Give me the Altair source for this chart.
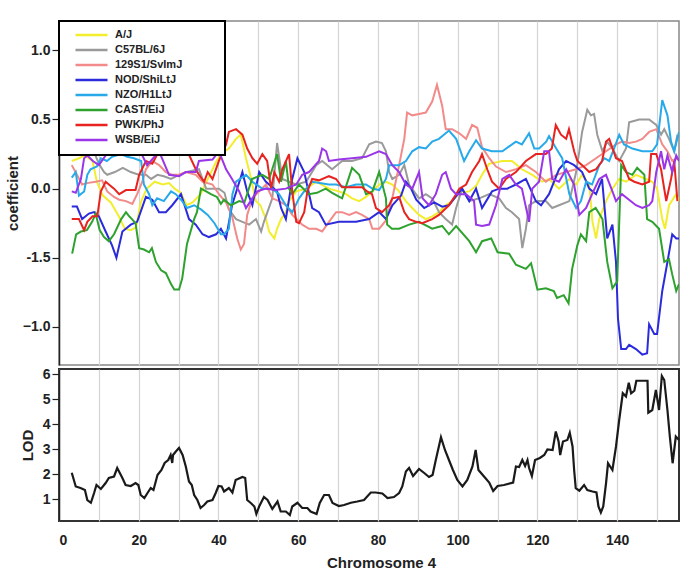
import altair as alt
import pandas as pd

STRAINS = ["A/J", "C57BL/6J", "129S1/SvImJ", "NOD/ShiLtJ", "NZO/H1LtJ", "CAST/EiJ", "PWK/PhJ", "WSB/EiJ"]
COLORS = ["#f2ee2e", "#9a9a9a", "#f28a8a", "#2b2bdc", "#27a9ea", "#2ea22e", "#e8231f", "#9a35e8"]

AJ = [(3.2,0.2),(5,0.22),(6.5,0.24),(8.4,0.2),(9.5,0.05),(11,-0.05),(13,-0.1),(15,-0.2),(16.5,-0.29),(18,-0.3),(19.3,-0.28),(20.5,-0.1),(22,0.0),(24,0.05),(26,0.03),(27.6,0.04),(29,0.0),(30.5,-0.03),(32,-0.12),(33.5,-0.1),(35.5,-0.04),(37.5,0.08),(39.5,0.2),(41,0.26),(42.6,0.29),(44.4,0.36),(45.6,0.39),(46.9,0.22),(48.2,0.07),(49.4,-0.09),(50.5,-0.12),(51.9,-0.22),(52.7,-0.31),(54,-0.36),(54.7,-0.29),(55.7,-0.22),(56.9,-0.17),(57.7,-0.09),(59.5,-0.02),(62,0.0),(64.5,0.05),(67.7,0.0),(70.2,-0.02),(72,-0.04),(73.5,-0.07),(75.3,-0.09),(77,-0.06),(78.6,-0.02),(80.3,0.03),(82,0.05),(83.6,0.03),(85.3,-0.02),(87,-0.09),(88.6,-0.14),(90.3,-0.19),(92,-0.22),(93.6,-0.2),(95.3,-0.17),(97,-0.12),(98.6,-0.09),(100.4,-0.03),(102.9,-0.02),(104.6,0.02),(106.1,0.1),(107.9,0.18),(109.6,0.19),(111.2,0.2),(113.6,0.2),(116.1,0.14),(118.7,0.1),(121.2,0.05),(122.9,0.07),(125.4,0.0),(128,0.07),(129.7,0.03),(131.2,0.1),(133,0.03),(133.8,-0.24),(134.7,-0.36),(135.5,-0.22),(137.2,-0.09),(138.8,0.0),(140.5,0.07),(142.2,0.05),(144.7,0.1),(147.2,0.07),(148.8,0.05),(150,0.0),(151.3,-0.22),(152,-0.29),(153,-0.12),(154.8,-0.04),(155.5,-0.09)]

C57 = [(3.2,0.3),(5,0.32),(7,0.3),(9,0.25),(10,0.18),(11.3,0.12),(12.1,0.1),(14,0.12),(16,0.15),(18,0.12),(20,0.1),(21.8,0.1),(23.1,0.07),(24.7,0.1),(26.3,0.09),(28.1,0.07),(30.1,0.1),(32,0.12),(35.1,0.14),(36.9,0.0),(40.1,0.0),(41.5,-0.03),(42.6,-0.15),(44.4,-0.22),(46,-0.24),(47.7,-0.26),(49.4,-0.22),(50.7,-0.31),(51.4,-0.24),(53.5,-0.07),(54.7,0.33),(56,0.07),(57.7,0.05),(59.5,0.03),(62,0.05),(64.5,0.17),(66,0.2),(68.5,0.14),(71,0.2),(73.5,0.2),(76,0.22),(77.8,0.32),(79.5,0.34),(81,0.33),(82,0.27),(82.8,0.12),(83.6,0.07),(85.3,0.1),(86.6,0.17),(87.8,0.03),(90.3,-0.07),(92,-0.04),(93.6,-0.07),(95.3,-0.17),(97,-0.22),(98.6,-0.26),(99.6,-0.14),(101.1,0.0),(102.9,-0.09),(105.4,-0.07),(107.9,-0.04),(110.4,-0.07),(112.1,-0.14),(113.6,-0.17),(115.4,-0.22),(116.2,-0.43),(117.1,-0.29),(117.9,-0.12),(119.6,-0.09),(122.1,-0.09),(123.7,-0.14),(125.4,-0.12),(128,-0.09),(129.7,0.12),(130.5,0.27),(131.2,0.41),(132.5,0.57),(133.4,0.53),(134.2,0.54),(135,0.39),(136.3,0.27),(137.5,0.34),(138.8,0.29),(140.5,0.2),(142.2,0.29),(143,0.48),(145.5,0.5),(148,0.5),(149.8,0.46),(151,0.39),(151.8,0.43),(153,0.36),(154.3,0.27),(155.1,0.39)]

S129 = [(3.2,0.17),(4.5,0.1),(5.8,0.03),(7,0.04),(9.2,0.05),(10.8,0.06),(12.1,-0.02),(13.8,-0.06),(15.1,-0.08),(16.8,-0.09),(18.4,-0.11),(19.6,-0.04),(20.9,0.05),(21.8,0.14),(23.4,0.2),(25.1,0.17),(26.8,0.12),(28.4,0.1),(30.1,0.1),(31.8,0.12),(34.3,0.1),(36,0.05),(38.5,0.03),(40.1,-0.04),(41.9,-0.1),(43.4,-0.2),(44.7,-0.36),(45.6,-0.44),(46.4,-0.4),(47.2,-0.19),(48.5,-0.07),(50.2,-0.02),(51.9,0.03),(53.5,-0.07),(55.2,-0.09),(56.9,-0.12),(58.5,-0.19),(61,-0.26),(62.7,-0.29),(64.5,-0.29),(66,-0.31),(67.7,-0.24),(69.5,-0.17),(71,-0.17),(72.8,-0.19),(74.5,-0.17),(76,-0.19),(77.8,-0.22),(78.6,-0.29),(80.3,-0.29),(82,-0.23),(83.6,-0.07),(85.3,0.17),(86.6,0.36),(87.3,0.55),(88.6,0.53),(90.3,0.54),(92,0.55),(93.6,0.63),(94.8,0.75),(96.1,0.6),(97,0.43),(98.6,0.43),(100.4,0.4),(102.1,0.36),(103.6,0.46),(104.9,0.44),(106.1,0.3),(107.9,0.22),(109.6,0.16),(112.1,0.12),(114.6,0.14),(117.1,0.17),(119.6,0.12),(122.1,0.05),(124.7,0.1),(127.2,0.12),(129.7,0.14),(132.2,0.17),(134.7,0.22),(137.2,0.27),(139.7,0.32),(141.2,0.34),(143,0.33),(144.7,0.34),(146.3,0.36),(148,0.41),(149.8,0.43),(151.3,0.32),(152.6,0.27),(153.8,0.2),(155.1,0.22)]

NOD = [(3.2,-0.13),(4.5,-0.13),(5.8,-0.22),(7.5,-0.18),(8.8,-0.17),(10,-0.2),(11.7,-0.31),(13.3,-0.41),(14.4,-0.5),(15.9,-0.31),(18,-0.26),(19.6,-0.24),(21.8,-0.06),(23.4,-0.08),(25.1,-0.17),(26.8,-0.17),(28.4,-0.12),(30.6,-0.04),(32.6,-0.22),(34.3,-0.26),(36,-0.33),(37.6,-0.35),(39.4,-0.33),(40.6,-0.29),(41.9,-0.36),(43.4,-0.12),(46,0.12),(47.2,-0.02),(48.5,-0.12),(50.2,0.12),(51.9,0.05),(54.7,-0.02),(55.7,-0.14),(56.9,-0.22),(58.5,0.07),(59.8,0.22),(61.5,0.12),(63.5,-0.14),(65.2,-0.17),(66.9,-0.26),(70.2,-0.24),(74.5,-0.24),(77.8,-0.22),(80.3,-0.17),(82,-0.22),(83.6,-0.12),(85.8,-0.05),(87,0.05),(88.3,0.0),(89.6,-0.08),(91.6,-0.14),(94.1,-0.1),(96.1,-0.13),(97.8,-0.12),(101.1,0.0),(102.9,-0.09),(104.6,0.0),(106.1,-0.14),(108.6,-0.02),(110.4,0.0),(112.4,0.0),(114.6,0.03),(117.1,0.07),(119.6,-0.09),(120.9,-0.12),(122.9,-0.04),(125.4,0.14),(127.2,0.2),(129.2,0.17),(131.2,0.12),(133,0.0),(134.7,-0.04),(136.2,0.07),(137.5,-0.36),(138.8,-0.26),(139.7,-0.53),(140.2,-0.94),(141,-1.16),(142.2,-1.16),(143,-1.13),(144.7,-1.16),(146.3,-1.2),(147.5,-1.19),(148,-0.98),(149.3,-1.05),(150,-1.05),(151.3,-0.74),(152.6,-0.53),(153.8,-0.33),(154.8,-0.36),(155.5,-0.36)]

NZO = [(3.2,0.08),(4.2,0.12),(5,-0.05),(6.3,-0.02),(7.1,0.1),(7.9,0.14),(9.5,0.16),(10.5,0.22),(12,0.2),(13.3,0.23),(15.6,0.25),(17.1,0.23),(18.8,0.22),(20.6,0.2),(21.3,0.03),(22.6,-0.04),(23.4,-0.12),(24.6,-0.07),(26.3,-0.09),(28.1,-0.02),(29.3,-0.04),(30.9,-0.09),(32.1,-0.14),(33.9,-0.12),(35.6,-0.15),(37.3,-0.19),(39,-0.25),(40.6,-0.33),(41.4,-0.33),(42.6,-0.29),(43.5,-0.04),(44.4,0.05),(46.9,0.1),(48.5,0.05),(51,0.0),(53.5,0.0),(55.2,-0.04),(56.9,-0.12),(58.5,-0.17),(60.2,-0.07),(62,0.0),(63.5,0.05),(67.7,0.03),(69.5,0.03),(72,0.01),(74.5,0.03),(77,0.03),(78.6,0.0),(80.3,-0.01),(82,0.07),(82.8,0.17),(85.3,0.17),(87,0.2),(88.6,0.27),(90.3,0.3),(92,0.29),(93.6,0.34),(95.3,0.36),(97.8,0.42),(99.6,0.36),(101.6,0.2),(102.9,0.27),(104.6,0.35),(106.1,0.29),(108.6,0.27),(111.2,0.27),(114.6,0.34),(116.1,0.32),(117.9,0.4),(119.2,0.29),(120.4,0.29),(122.2,0.34),(122.9,0.38),(124.7,0.29),(126.2,0.22),(128,-0.04),(129.7,-0.14),(130.9,-0.09),(132.2,0.05),(133.7,0.03),(135.5,0.17),(136.8,0.22),(138,0.2),(139.2,0.29),(140.5,0.39),(141.7,0.32),(143.8,0.29),(146.3,0.27),(148.8,0.27),(150,0.32),(151.3,0.64),(152.6,0.53),(153.5,0.34),(154.3,0.27),(155.5,0.41)]

CAST = [(3.3,-0.47),(4.3,-0.33),(5.5,-0.31),(7,-0.3),(8.3,-0.24),(9.2,-0.18),(10.2,-0.3),(11.3,-0.35),(12.5,-0.38),(13.8,-0.33),(15.6,-0.22),(16.8,-0.17),(17.6,-0.2),(18.3,-0.22),(19.2,-0.25),(20.1,-0.43),(21.3,-0.44),(22.6,-0.46),(23.3,-0.43),(24.3,-0.53),(25.6,-0.59),(26.8,-0.61),(28.1,-0.69),(28.9,-0.73),(30.1,-0.73),(30.9,-0.65),(32.1,-0.4),(33.9,-0.22),(34.6,-0.17),(35.6,0.0),(36.9,-0.02),(38.1,-0.04),(39.6,-0.06),(40.6,-0.11),(41.4,-0.08),(43.1,-0.12),(45.2,-0.09),(46.5,-0.1),(48.4,0.07),(51,0.1),(52.7,0.07),(54.7,0.25),(55.7,0.05),(56.9,0.2),(57.7,0.0),(58.5,-0.04),(60.2,0.03),(62.7,-0.04),(64.7,-0.03),(66.9,0.0),(68.5,-0.03),(71,-0.07),(73.5,0.15),(75.3,0.1),(77,-0.04),(78.6,-0.02),(80.3,0.12),(82,-0.07),(82.3,-0.26),(83.5,-0.29),(85.3,-0.29),(87.8,-0.26),(90.3,-0.24),(93.6,-0.29),(96.1,-0.27),(97.8,-0.33),(99.6,-0.27),(102.9,-0.38),(104.6,-0.46),(106.1,-0.38),(108.4,-0.36),(110,-0.46),(112.9,-0.47),(114.6,-0.55),(117.1,-0.58),(118.4,-0.54),(120,-0.73),(122.1,-0.72),(124.1,-0.74),(124.9,-0.79),(126.6,-0.77),(127.8,-0.83),(128.7,-0.58),(130,-0.41),(130.9,-0.33),(132.2,-0.38),(133,-0.17),(134.6,-0.14),(136.3,-0.22),(137.5,-0.53),(138.8,-0.72),(140,-0.67),(141,0.17),(142.2,0.12),(143.8,0.1),(145,0.15),(146.8,0.1),(147.5,-0.22),(148.8,-0.24),(150.5,-0.29),(151.8,-0.53),(153,-0.51),(153.8,-0.62),(154.8,-0.74),(155.5,-0.69)]

PWK = [(3.2,-0.22),(5,-0.22),(6.3,-0.3),(7.1,-0.24),(8.4,-0.2),(9.6,-0.2),(10.5,-0.02),(11.7,0.05),(13.8,0.0),(15.1,-0.04),(16.8,-0.01),(19.2,-0.01),(20.1,0.1),(21.8,0.2),(23.4,0.18),(24.7,0.25),(25.9,0.27),(27.6,0.27),(28.8,0.29),(30.5,0.25),(32.2,0.27),(34.3,0.14),(35.1,0.1),(36.4,0.05),(37.3,0.12),(38.5,0.07),(40.1,0.2),(41.9,0.32),(42.6,0.41),(44.4,0.43),(46,0.39),(47.2,0.29),(48.5,0.22),(49.7,0.18),(51,0.25),(52.2,0.2),(53.2,0.0),(54,0.12),(55.2,0.05),(56,0.14),(57.7,0.25),(58.5,-0.02),(59.5,-0.24),(60.2,-0.25),(61.5,-0.17),(62.3,-0.02),(63.5,0.07),(65.2,0.06),(67.7,0.09),(69.5,0.07),(71,0.01),(73.5,0.01),(76,0.01),(77.3,-0.02),(78.5,-0.04),(79.5,-0.14),(81,-0.17),(82.8,-0.12),(83.6,-0.07),(85.3,-0.06),(86.6,-0.17),(87.8,-0.22),(89.6,-0.24),(91.1,-0.25),(93.6,-0.22),(95.3,-0.19),(97.8,-0.12),(99.6,-0.04),(100.4,0.0),(102.1,0.03),(103.6,0.12),(105.4,0.2),(106.1,0.25),(107.4,0.14),(108.6,0.05),(110.4,0.0),(112.1,0.07),(114.6,0.12),(117.1,0.2),(119.6,0.25),(122.1,0.25),(123.6,0.29),(124.6,0.46),(125.9,0.39),(127.2,0.36),(127.9,0.43),(129.2,0.27),(130,0.2),(131.2,0.17),(133,0.12),(134.7,0.14),(136.2,0.2),(137.2,0.34),(138,0.36),(139.7,0.22),(141.2,0.2),(143,0.07),(144.3,0.05),(146.3,0.03),(148,0.05),(148.5,0.25),(149.8,0.25),(151,0.14),(152.3,-0.09),(153.5,0.07),(154.3,0.2),(155.1,-0.09)]

WSB = [(3.2,-0.02),(4.2,-0.03),(5.5,0.07),(6.3,0.22),(7.1,0.24),(8.5,0.2),(10,0.17),(11.7,0.24),(13.8,0.27),(16,0.32),(18,0.35),(20.9,0.24),(22.1,0.17),(25.1,0.27),(27.6,0.1),(30.1,0.09),(31.8,0.12),(34.3,0.12),(35.1,0.2),(38.5,0.21),(40.1,0.27),(41.9,0.14),(43.4,0.07),(45.2,-0.02),(46.9,-0.14),(48.5,-0.07),(49.7,-0.02),(51.9,0.0),(54.3,-0.01),(56.9,0.0),(59.5,0.03),(61,0.1),(62.7,0.12),(65.2,0.2),(66,0.29),(67,0.27),(67.7,0.2),(70.2,0.21),(73.5,0.22),(77,0.23),(78.6,0.25),(80.3,0.27),(82,0.25),(83.6,0.17),(85.3,0.12),(87,0.03),(88.6,0.0),(90.3,0.12),(91.2,-0.07),(92.8,-0.12),(94.5,-0.04),(96.1,0.1),(97,0.12),(98.3,0.0),(99.6,-0.04),(102.1,-0.04),(104.1,-0.09),(104.6,-0.26),(106.1,-0.27),(107.9,-0.26),(109.6,-0.12),(111.2,0.07),(112.9,0.1),(114.6,0.03),(116.1,0.0),(117.9,-0.24),(118.7,0.0),(120.4,0.05),(121.7,0.27),(122.9,0.27),(123.7,0.07),(125.4,0.05),(127.2,0.14),(129.2,0.03),(130.5,-0.19),(132.2,-0.14),(133.7,-0.04),(135.5,0.07),(137.2,0.1),(138.8,-0.02),(139.7,-0.09),(141.2,-0.04),(144.7,-0.12),(146.3,-0.14),(148,-0.12),(148.8,-0.09),(149.8,0.12),(151,0.27),(151.8,0.14),(152.6,0.24),(153.8,0.12),(154.8,0.24),(155.5,0.2)]

LOD = [(3.2,2.05),(4.2,1.5),(5.4,1.44),(6.5,1.36),(7.1,0.96),(8.0,0.85),(8.8,1.24),(9.4,1.56),(10.5,1.4),(11.7,1.64),(12.5,1.84),(13.8,1.9),(14.6,2.24),(15.9,1.84),(16.7,1.56),(18.0,1.52),(19.2,1.64),(19.9,1.56),(20.5,1.16),(21.4,1.04),(22.2,1.24),(23.0,1.44),(23.7,1.36),(24.7,1.96),(25.7,2.16),(26.5,2.44),(27.4,2.56),(28.0,2.76),(28.4,2.44),(28.6,2.76),(29.3,2.9),(30.1,3.04),(31.0,2.76),(31.8,2.3),(32.6,1.7),(33.3,1.56),(33.9,1.16),(34.7,0.96),(35.5,0.64),(36.4,0.76),(37.2,0.9),(38.5,0.96),(39.3,1.24),(40.0,1.52),(40.8,1.5),(41.4,1.3),(42.6,1.44),(43.5,1.26),(44.3,1.76),(46.0,1.88),(46.7,1.84),(47.2,0.96),(48.1,0.84),(49.0,0.7),(49.5,0.4),(50.2,0.7),(51.4,1.08),(52.3,0.96),(53.5,0.6),(54.8,0.9),(55.6,0.5),(56.9,0.5),(57.9,0.36),(58.5,0.7),(59.8,0.85),(61.0,0.64),(62.3,0.64),(63.1,0.5),(64.6,0.4),(65.4,0.84),(66.5,1.16),(67.7,1.16),(68.6,0.84),(70.2,0.72),(71.5,0.76),(73.2,0.85),(74.8,0.9),(76.5,0.96),(78.2,1.26),(79.4,1.26),(81.1,1.22),(82.4,1.04),(84.0,1.08),(85.3,1.24),(86.1,1.5),(87.0,2.1),(87.8,2.24),(88.8,1.92),(90.3,2.2),(91.6,2.04),(92.8,1.88),(93.7,1.96),(94.5,2.56),(95.8,3.47),(96.8,2.96),(97.8,2.56),(98.8,2.16),(99.9,1.76),(101.2,1.5),(102.4,1.76),(103.7,2.3),(104.5,2.96),(105.2,2.16),(106.6,1.9),(107.9,1.66),(108.9,1.32),(110.0,1.52),(111.6,1.56),(113.9,1.66),(114.6,2.3),(115.4,2.28),(116.2,2.56),(116.9,2.32),(117.5,2.56),(117.9,2.24),(118.6,1.92),(119.4,2.56),(120.6,2.64),(121.7,2.76),(122.5,2.98),(123.8,2.96),(124.6,3.7),(125.3,3.3),(125.7,2.76),(126.4,3.3),(127.5,3.36),(128.1,3.65),(128.8,3.1),(129.2,2.16),(129.6,1.43),(130.5,1.33),(131.7,1.56),(132.5,1.36),(133.8,1.3),(134.8,1.26),(135.3,0.7),(135.9,0.46),(136.5,0.7),(137.2,1.63),(137.7,2.43),(138.8,2.16),(139.7,3.1),(140.5,4.16),(141.4,5.23),(142.2,5.1),(142.9,5.65),(143.5,5.23),(144.3,5.33),(144.8,5.73),(147.6,5.73),(147.8,4.45),(148.8,4.56),(149.7,5.36),(150.5,4.56),(151.2,5.92),(151.8,5.76),(152.6,4.56),(153.2,3.5),(153.9,2.43),(154.7,3.5),(155.5,3.36)]

SERIES = {"A/J": AJ, "C57BL/6J": C57, "129S1/SvImJ": S129, "NOD/ShiLtJ": NOD,
          "NZO/H1LtJ": NZO, "CAST/EiJ": CAST, "PWK/PhJ": PWK, "WSB/EiJ": WSB}

rows = []
for name in STRAINS:
    for p, v in SERIES[name]:
        rows.append({"strain": name, "pos": p, "coef": v})
coef_df = pd.DataFrame(rows)
lod_df = pd.DataFrame(LOD, columns=["pos", "lod"])

FONT = "Liberation Sans"
X_DOMAIN = [0, 155.5]
GRID_VALUES = list(range(0, 160, 10))

top = alt.Chart(coef_df).mark_line(strokeWidth=2, clip=True).encode(
    x=alt.X("pos:Q", scale=alt.Scale(domain=X_DOMAIN, nice=False, zero=False),
            axis=alt.Axis(values=GRID_VALUES, labels=False, ticks=False, domain=False,
                          grid=True, title=None)),
    y=alt.Y("coef:Q", scale=alt.Scale(domain=[-1.275, 1.212], nice=False, zero=False),
            axis=alt.Axis(values=[-1.0, -0.5, 0.0, 0.5, 1.0], grid=False,
                          labelExpr="datum.value == -0.5 ? '-1.5' : format(datum.value, '.1f')",
                          title="coefficient", titlePadding=2)),
    color=alt.Color("strain:N", scale=alt.Scale(domain=STRAINS, range=COLORS),
                    legend=alt.Legend(title=" ", titleOrient="right", titlePadding=36,
                                      titleFontSize=11,
                                      orient="top-left", offset=0, padding=7,
                                      fillColor="white", strokeColor="black",
                                      symbolType="stroke", symbolSize=1024,
                                      symbolStrokeWidth=2.5, clipHeight=14.2, rowPadding=0,
                                      symbolOffset=8, labelOffset=6, labelFontSize=11,
                                      labelFont=FONT, labelFontWeight="bold",
                                      labelColor="#222")),
).properties(width=620, height=344, view=alt.ViewBackground(stroke="#888", strokeWidth=1.5))

bottom = alt.Chart(lod_df).mark_line(color="#1a1a1a", strokeWidth=2.2).encode(
    x=alt.X("pos:Q", scale=alt.Scale(domain=X_DOMAIN, nice=False, zero=False),
            axis=alt.Axis(values=GRID_VALUES, ticks=False, domain=False, grid=True,
                          labelExpr="datum.value % 20 == 0 ? datum.label : ''",
                          labelPadding=12, title="Chromosome 4", titlePadding=8,
                          titleX=322)),
    y=alt.Y("lod:Q", scale=alt.Scale(domain=[0.12, 6.2], nice=False, zero=False),
            axis=alt.Axis(values=[1, 2, 3, 4, 5, 6], grid=False, title="LOD", titlePadding=7)),
).properties(width=620, height=152, view=alt.ViewBackground(stroke="#333", strokeWidth=2))

chart = alt.vconcat(top, bottom, spacing=0).properties(
    padding={"left": 4, "top": 20, "right": 6, "bottom": 4},
    background="white",
).configure_axis(
    labelFont=FONT, labelFontSize=14, labelFontWeight="bold", labelColor="#222",
    titleFont=FONT, titleFontSize=15, titleFontWeight="bold", titleColor="#222",
    domainColor="#222", domainWidth=1.5, tickColor="#222", tickSize=7, tickWidth=1.2,
    labelPadding=2, gridColor="#d4d4d4", gridWidth=1.2,
).configure_legend(strokeWidth=2)

chart.save("out.html", embed_options={"renderer": "svg", "actions": False})
